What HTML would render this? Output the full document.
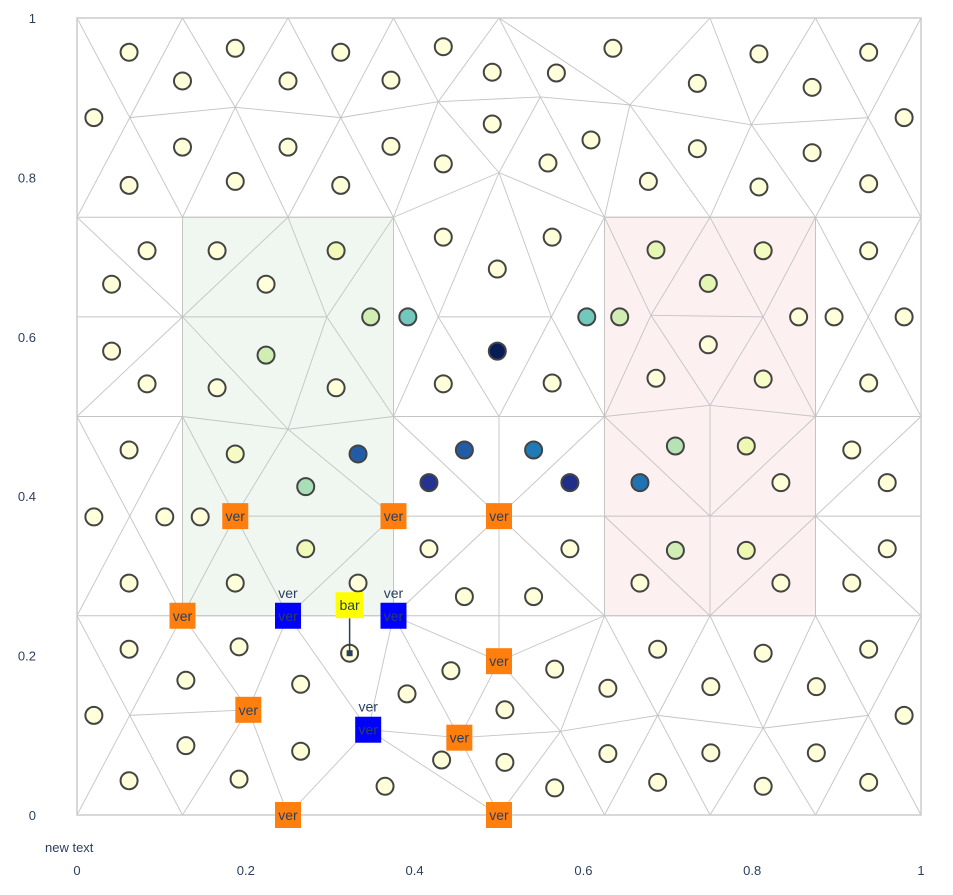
<!DOCTYPE html>
<html><head><meta charset="utf-8"><style>
html,body{margin:0;padding:0;background:#fff;}
svg{display:block;font-family:"Liberation Sans",sans-serif;}
</style></head><body>
<svg id="chart" width="953" height="895" viewBox="0 0 953 895"></svg>
<script>
// ---- data ----
const circleX=[.0617,.1875,.3125,.434,.635,.808,.938, .125,.25,.372,.492,.568,.735,.871, .02,.492,.98, .125,.25,.372,.609,.735,.871, .0617,.1875,.3125,.434,.558,.677,.808,.938,
.083,.166,.307,.434,.563,.686,.813,.938, .041,.224,.498,.748, .348,.392,.604,.643,.855,.897,.98, .041,.224,.498,.748, .083,.166,.307,.434,.563,.686,.813,.938,
.0617,.1875,.333,.459,.541,.709,.793,.918, .271,.417,.584,.667,.834,.96, .02,.104,.146, .271,.417,.584,.709,.793,.96, .0617,.1875,.333,.459,.541,.667,.834,.918,
.0617,.192,.323,.443,.391,.566,.688,.813,.938, .129,.265,.507,.629,.751,.876, .02,.98, .129,.265,.432,.507,.629,.751,.876, .0617,.192,.365,.566,.688,.813,.938];
const circleY=[.957,.962,.957,.964,.962,.955,.957, .921,.921,.922,.932,.931,.918,.913, .875,.867,.875, .838,.838,.839,.847,.836,.831, .79,.795,.79,.817,.818,.795,.788,.792,
.708,.708,.708,.725,.725,.709,.708,.708, .666,.666,.685,.667, .625,.625,.625,.625,.625,.625,.625, .582,.577,.582,.59, .541,.536,.536,.541,.542,.548,.547,.542,
.458,.453,.453,.458,.458,.463,.463,.458, .412,.417,.417,.417,.417,.417, .374,.374,.374, .334,.334,.334,.332,.332,.334, .291,.291,.291,.274,.274,.291,.291,.291,
.208,.211,.203,.181,.152,.183,.208,.203,.208, .169,.164,.132,.159,.161,.161, .125,.125, .087,.08,.069,.066,.077,.078,.078, .043,.045,.036,.034,.041,.036,.041];
const circleV=[0,0,0,0,0,0,0, 0,0,0,0,0,0,0, 0,0,0, 0,0,0,0,0,0, 0,0,0,0,0,0,0,0,
0,0,.1,0,0,.15,.08,0, 0,0,0,.15, .22,.4,.4,.22,0,0,0, 0,.22,1,0, 0,0,0,0,0,0,.05,0,
0,.07,.76,.76,.68,.28,.12,0, .3,.88,.9,.7,0,0, 0,0,0, .1,0,0,.22,.12,0, 0,0,0,0,0,0,0,0,
0,0,0,0,0,0,0,0,0, 0,0,0,0,0,0, 0,0, 0,0,0,0,0,0,0, 0,0,0,0,0,0,0];
const xTicks=[0,0.2,0.4,0.6,0.8,1];
const yTicks=[0,0.2,0.4,0.6,0.8,1];
const xTickLabels=["0","0.2","0.4","0.6","0.8","1"];
const yTickLabels=["0","0.2","0.4","0.6","0.8","1"];
const verOrangeX=[.1875,.375,.5,.125,.5,.203,.453,.25,.5];
const verOrangeY=[.375,.375,.375,.25,.193,.132,.097,0,0];
const verBlueX=[.25,.375,.345];
const verBlueY=[.25,.25,.107];
const barX=.323, barY=.203;
const V={T0:[0,1],T1:[.125,1],T2:[.25,1],T3:[.375,1],T4:[.5,1],T5:[.75,1],T6:[.875,1],T7:[1,1],
M0:[.0625,.875],M1:[.1875,.888],M2:[.3125,.875],M3:[.428,.895],M4:[.549,.901],M5:[.655,.891],M6:[.799,.866],M7:[.9375,.875],
B0:[0,.75],B1:[.125,.75],B2:[.25,.75],B3:[.375,.75],B4:[.5,.806],B5:[.625,.75],B6:[.75,.75],B7:[.875,.75],B8:[1,.75],
C0:[0,.625],C1:[.125,.625],C2:[.296,.625],C3:[.428,.625],C4:[.562,.625],C5:[.68,.627],C6:[.813,.625],C7:[.9375,.625],
D0:[0,.5],D1:[.125,.5],D2:[.25,.484],D3:[.375,.5],D4:[.5,.5],D5:[.625,.5],D6:[.75,.514],D7:[.875,.5],D8:[1,.5],
E0:[0,.375],E1:[.0625,.375],E2:[.1875,.375],E3:[.375,.375],E4:[.5,.375],E5:[.625,.375],E6:[.75,.375],E7:[.875,.375],E8:[1,.375],
F0:[0,.25],F1:[.125,.25],F2:[.25,.25],F3:[.375,.25],F4:[.5,.25],F5:[.625,.25],F6:[.75,.25],F7:[.875,.25],F8:[1,.25],
G1:[.0625,.125],G2:[.203,.132],G3:[.345,.107],G4:[.5,.193],G5:[.453,.097],G6:[.573,.105],G7:[.688,.125],G8:[.813,.109],G9:[.9375,.125],
H0:[0,0],H1:[.125,0],H2:[.25,0],H4:[.5,0],H5:[.625,0],H6:[.75,0],H7:[.875,0],H8:[1,0]};
const edges=("T0-M0 M0-T1 T1-M1 M1-T2 T2-M2 M2-T3 T3-M3 M3-T4 T4-M4 T4-M5 M5-T5 T5-M6 M6-T6 T6-M7 M7-T7 M0-M1 M1-M2 M2-M3 M3-M4 M4-M5 M5-M6 M6-M7 M0-B0 M0-B1 M1-B1 M1-B2 M2-B2 M2-B3 M3-B3 M3-B4 B3-B4 B4-M4 M4-B5 B4-B5 M5-B5 M5-B6 M6-B6 M6-B7 M7-B7 M7-B8 B0-B1 B1-B2 B2-B3 B5-B6 B6-B7 B7-B8 "+
"B0-C1 C0-C1 C1-C2 B1-C1 B2-C1 B2-C2 B3-C2 C2-D3 C2-D2 C1-D2 C1-D0 C1-D1 B3-D3 B3-C3 C3-D3 C3-D4 C3-C4 B4-C3 B4-C4 C4-D4 C4-B5 C4-D5 B5-C5 B6-C5 B6-C6 B7-C6 C5-C6 C5-D5 C5-D6 C6-D6 C6-D7 B7-C7 B8-C7 C7-D7 C7-D8 B5-D5 B7-D7 D0-D1 D1-D2 D2-D3 D3-D4 D4-D5 D5-D6 D6-D7 D7-D8 "+
"D0-E1 D1-E1 E1-F0 E1-F1 D1-E2 D2-E2 D2-E3 E2-E3 E3-E4 E4-E5 E5-E6 E6-E7 E7-E8 E2-F1 E2-F2 E3-F2 D3-E4 E4-F3 D4-E4 E4-F4 F4-G4 D5-E4 E4-F5 D5-E6 D6-E6 D7-E6 E5-F6 E7-F6 D8-E7 E7-F8 D1-F1 D3-F3 D5-F5 E6-F6 D7-F7 "+
"F0-F1 F1-F2 F2-F3 F3-F4 F4-F5 F5-F6 F6-F7 F7-F8 F0-G1 F1-G1 F1-G2 G1-G2 G2-F2 F2-G3 F3-G3 F3-G4 F3-G5 G4-G5 G3-G5 G5-G6 G4-F5 G4-G6 G6-F5 F5-G7 F6-G7 F6-G8 F7-G8 F7-G9 F8-G9 G6-G7 G7-G8 G8-G9 G9-H8 G1-H0 G1-H1 G2-H1 G2-H2 G3-H2 G3-H4 G5-H4 G6-H4 G6-H5 G7-H5 G7-H6 G8-H6 G8-H7 G9-H7").split(" ");
const shapes=[{name:"green-region",x0:.125,x1:.375,y0:.25,y1:.75,fill:"#f0f7f0"},{name:"pink-region",x0:.625,x1:.875,y0:.25,y1:.75,fill:"#fdf0f0"}];

// ---- axes ----
const X0=77,XW=844,Y0=815,YH=797;
const sx=v=>X0+v*XW, sy=v=>Y0-v*YH;
const NS="http://www.w3.org/2000/svg";
const svg=document.getElementById('chart');
function mk(tag,attrs,parent){const e=document.createElementNS(NS,tag);for(const k in attrs)e.setAttribute(k,attrs[k]);(parent||svg).appendChild(e);return e;}
const stops=[[0,[255,255,217]],[.125,[237,248,177]],[.25,[199,233,180]],[.375,[127,205,187]],[.5,[65,182,196]],[.625,[29,145,192]],[.75,[34,94,168]],[.875,[37,52,148]],[1,[8,29,88]]];
function color(v){for(let i=1;i<stops.length;i++){if(v<=stops[i][0]){const a=stops[i-1],b=stops[i],t=(v-a[0])/(b[0]-a[0]);return 'rgb('+a[1].map((c,j)=>Math.round(c+(b[1][j]-c)*t)).join(',')+')';}}return 'rgb(8,29,88)';}

shapes.forEach(s=>{
  const r=mk('rect',{x:sx(s.x0),y:sy(s.y1),width:sx(s.x1)-sx(s.x0),height:sy(s.y0)-sy(s.y1),fill:s.fill,stroke:"#c8c0c0","stroke-width":1});
  
  
});
const mesh=mk('g',{stroke:"#c4c4c4","stroke-width":0.9,fill:"none"});


edges.forEach(e=>{const [a,b]=e.split('-');const p=V[a],q=V[b];
  const l=mk('line',{x1:sx(p[0]),y1:sy(p[1]),x2:sx(q[0]),y2:sy(q[1])},mesh);
  
  
});
const border=mk('rect',{x:X0,y:sy(1),width:XW,height:YH,fill:"none",stroke:"#cccccc","stroke-width":1.5});



const cg=mk('g',{});


circleX.forEach((x,i)=>{
  const c=mk('circle',{cx:sx(x),cy:sy(circleY[i]),r:8.5,fill:color(circleV[i]),stroke:"#444","stroke-width":2},cg);
  
  
});

// annotation bar
const bl=mk('line',{x1:sx(barX),y1:sy(barY),x2:sx(barX),y2:sy(barY)-35,stroke:"#2a3f5f","stroke-width":1.5});


const bd=mk('rect',{x:sx(barX)-3,y:sy(barY)-3,width:6,height:6,fill:"#2a3f5f"});


const bb=mk('rect',{x:sx(barX)-14,y:sy(barY)-61,width:28,height:26,fill:"#ffff00"});


const bt=mk('text',{x:sx(barX),y:sy(barY)-43,"text-anchor":"middle","font-size":14,fill:"#2a3f5f"});
bt.textContent='bar';



verOrangeX.forEach((x,i)=>{
  const X=sx(x),Y=sy(verOrangeY[i]);
  const r=mk('rect',{x:X-13,y:Y-13,width:26,height:26,fill:"#ff7f0e"});
  
  
  const t=mk('text',{x:X,y:Y+5,"text-anchor":"middle","font-size":14,fill:"#2a3f5f"});
  t.textContent='ver';
  
  
});
verBlueX.forEach((x,i)=>{
  const X=sx(x),Y=sy(verBlueY[i]);
  const r=mk('rect',{x:X-13,y:Y-13,width:26,height:26,fill:"#0000ff"});
  
  
  const t=mk('text',{x:X,y:Y+5,"text-anchor":"middle","font-size":14,fill:"#2a3f5f"});
  t.textContent='ver';
  
  
  const t2=mk('text',{x:X,y:Y-18,"text-anchor":"middle","font-size":14,fill:"#2a3f5f"});
  t2.textContent='ver';
  
  
});

xTicks.forEach((v,i)=>{
  const t=mk('text',{x:sx(v),y:875,"text-anchor":"middle","font-size":13,fill:"#2a3f5f"});
  t.textContent=xTickLabels[i];
  
  
});
yTicks.forEach((v,i)=>{
  const t=mk('text',{x:36,y:sy(v)+5,"text-anchor":"end","font-size":13,fill:"#2a3f5f"});
  t.textContent=yTickLabels[i];
  
  
});
const nt=mk('text',{x:45,y:852,"font-size":13,fill:"#2a3f5f"});
nt.textContent='new text';


</script>
</body></html>
